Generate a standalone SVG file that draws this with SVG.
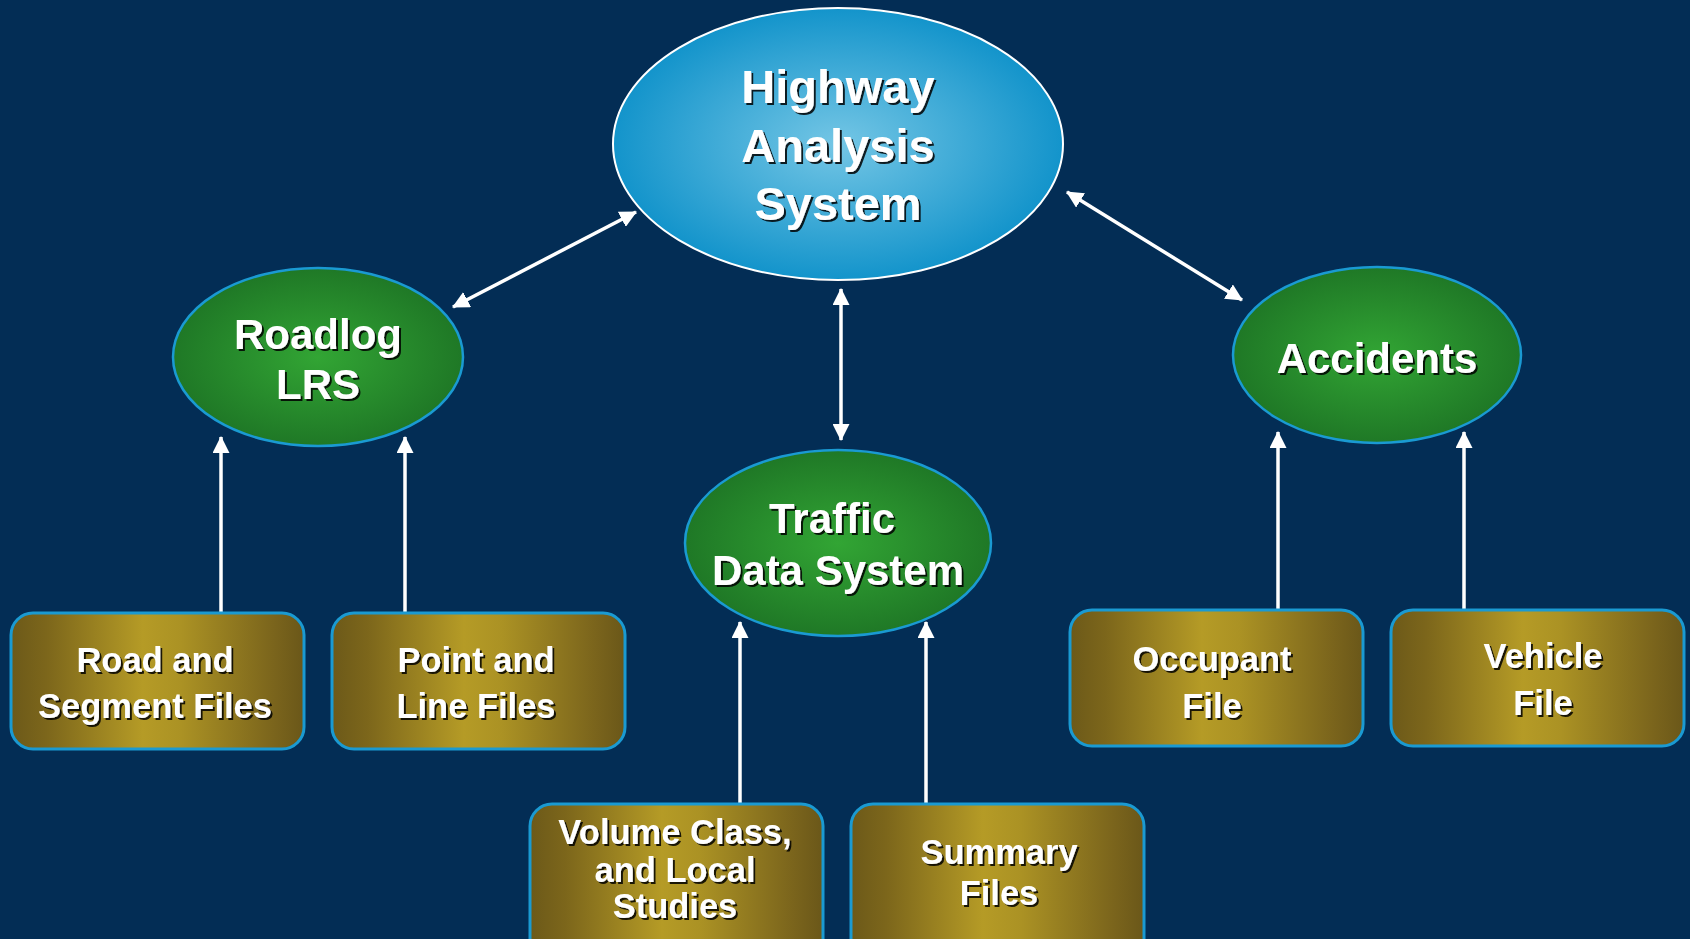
<svg xmlns="http://www.w3.org/2000/svg" width="1690" height="939" viewBox="0 0 1690 939">
  <defs>
    <radialGradient id="gBlue" cx="50%" cy="50%" r="50%">
      <stop offset="0" stop-color="#74c6e5"/>
      <stop offset="1" stop-color="#1394cb"/>
    </radialGradient>
    <radialGradient id="gGreen" cx="50%" cy="50%" r="50%">
      <stop offset="0" stop-color="#32a534"/>
      <stop offset="1" stop-color="#1f7826"/>
    </radialGradient>
    <linearGradient id="gGold" x1="0" y1="0" x2="1" y2="0">
      <stop offset="0" stop-color="#6c5919"/>
      <stop offset="0.12" stop-color="#7c661b"/>
      <stop offset="0.45" stop-color="#b59b26"/>
      <stop offset="0.58" stop-color="#ab9224"/>
      <stop offset="0.9" stop-color="#7a641c"/>
      <stop offset="1" stop-color="#6a5719"/>
    </linearGradient>
    <filter id="shadow" x="-10%" y="-20%" width="130%" height="150%">
      <feDropShadow dx="2" dy="2" stdDeviation="0.6" flood-color="#000" flood-opacity="0.85"/>
    </filter>
    <marker id="head" viewBox="0 0 16 16" markerWidth="17" markerHeight="17" markerUnits="userSpaceOnUse" refX="15" refY="8" orient="auto-start-reverse">
      <path d="M0,0 L16,8 L0,16 z" fill="#ffffff"/>
    </marker>
    <style>
      .lbl { font-family: "Liberation Sans", Arial, sans-serif; font-weight: bold; fill: #ffffff; text-anchor: middle; filter: url(#shadow); }
      .big { font-size: 47px; }
      .mid { font-size: 42px; }
      .sm { font-size: 34.5px; }
      .oval { fill: url(#gGreen); stroke: #1a9ad2; stroke-width: 2.5; }
      .box { fill: url(#gGold); stroke: #1a9ad2; stroke-width: 3; }
      .link { stroke: #ffffff; stroke-width: 3.5; fill: none; }
    </style>
  </defs>

  <rect width="1690" height="939" fill="#032d55"/>

  <!-- connectors -->
  <g id="connectors">
    <line class="link" x1="453" y1="307" x2="636" y2="212" marker-start="url(#head)" marker-end="url(#head)"/>
    <line class="link" x1="841" y1="289" x2="841" y2="440" marker-start="url(#head)" marker-end="url(#head)"/>
    <line class="link" x1="1067" y1="192" x2="1242" y2="300" marker-start="url(#head)" marker-end="url(#head)"/>
    <line class="link" x1="221" y1="612" x2="221" y2="437" marker-end="url(#head)"/>
    <line class="link" x1="405" y1="612" x2="405" y2="437" marker-end="url(#head)"/>
    <line class="link" x1="740" y1="803" x2="740" y2="622" marker-end="url(#head)"/>
    <line class="link" x1="926" y1="803" x2="926" y2="622" marker-end="url(#head)"/>
    <line class="link" x1="1278" y1="609" x2="1278" y2="432" marker-end="url(#head)"/>
    <line class="link" x1="1464" y1="609" x2="1464" y2="432" marker-end="url(#head)"/>
  </g>

  <g id="highway">
    <ellipse cx="838" cy="144" rx="225" ry="136" fill="url(#gBlue)" stroke="#ffffff" stroke-width="2"/>
    <text class="lbl big" x="838" y="103">Highway</text>
    <text class="lbl big" x="838" y="162">Analysis</text>
    <text class="lbl big" x="838" y="220">System</text>
  </g>

  <g id="roadlog">
    <ellipse class="oval" cx="318" cy="357" rx="145" ry="89"/>
    <text class="lbl mid" x="318" y="349">Roadlog</text>
    <text class="lbl mid" x="318" y="399">LRS</text>
  </g>

  <g id="traffic">
    <ellipse class="oval" cx="838" cy="543" rx="153" ry="93"/>
    <text class="lbl mid" x="832" y="533">Traffic</text>
    <text class="lbl mid" x="838" y="585">Data System</text>
  </g>

  <g id="accidents">
    <ellipse class="oval" cx="1377" cy="355" rx="144" ry="88"/>
    <text class="lbl mid" x="1377" y="373">Accidents</text>
  </g>

  <g id="road-segment">
    <rect class="box" x="11" y="613" width="293" height="136" rx="22"/>
    <text class="lbl sm" x="155" y="672">Road and</text>
    <text class="lbl sm" x="155" y="718">Segment Files</text>
  </g>

  <g id="point-line">
    <rect class="box" x="332" y="613" width="293" height="136" rx="22"/>
    <text class="lbl sm" x="476" y="672">Point and</text>
    <text class="lbl sm" x="476" y="718">Line Files</text>
  </g>

  <g id="volume-class">
    <rect class="box" x="530" y="804" width="293" height="160" rx="22"/>
    <text class="lbl sm" x="675" y="844">Volume Class,</text>
    <text class="lbl sm" x="675" y="882">and Local</text>
    <text class="lbl sm" x="675" y="918">Studies</text>
  </g>

  <g id="summary">
    <rect class="box" x="851" y="804" width="293" height="160" rx="22"/>
    <text class="lbl sm" x="999" y="864">Summary</text>
    <text class="lbl sm" x="999" y="905">Files</text>
  </g>

  <g id="occupant">
    <rect class="box" x="1070" y="610" width="293" height="136" rx="22"/>
    <text class="lbl sm" x="1212" y="671">Occupant</text>
    <text class="lbl sm" x="1212" y="718">File</text>
  </g>

  <g id="vehicle">
    <rect class="box" x="1391" y="610" width="293" height="136" rx="22"/>
    <text class="lbl sm" x="1543" y="668">Vehicle</text>
    <text class="lbl sm" x="1543" y="715">File</text>
  </g>
</svg>
